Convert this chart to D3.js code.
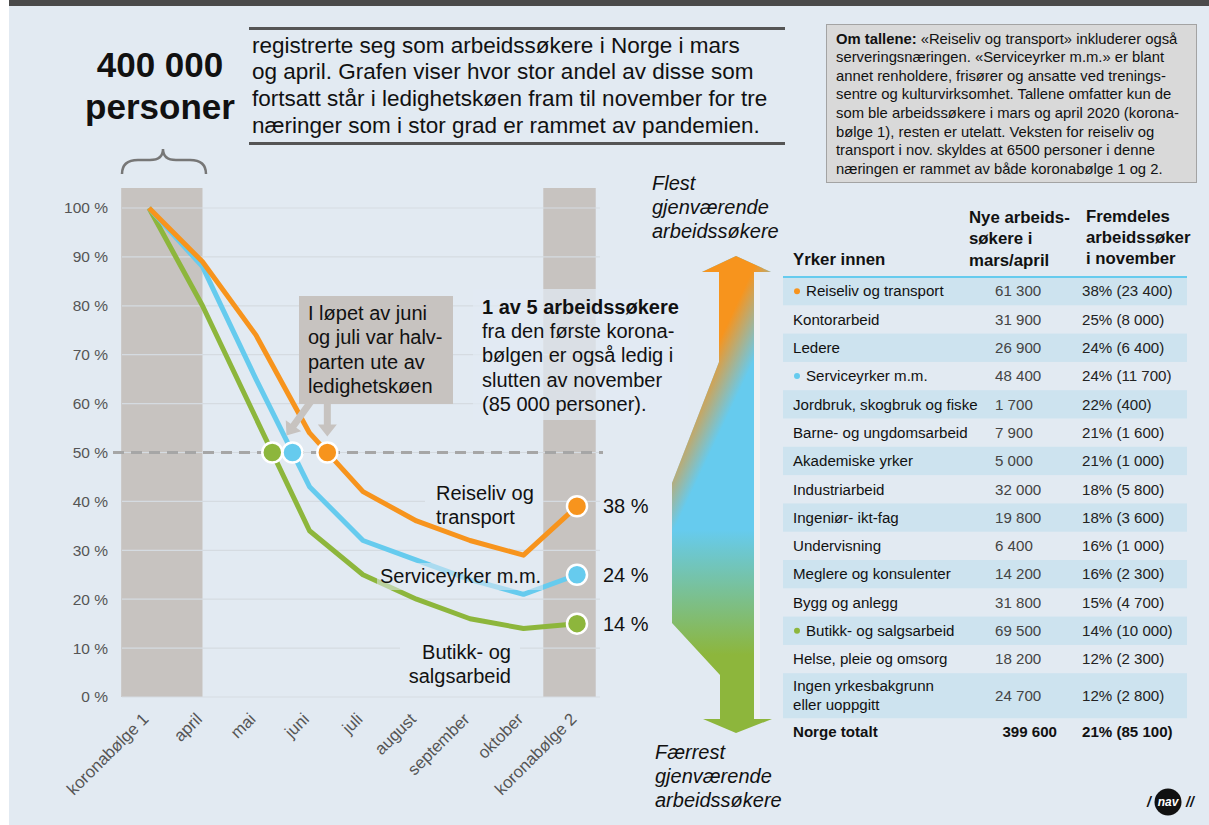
<!DOCTYPE html>
<html lang="no">
<head>
<meta charset="UTF-8">
<title>Koronabølge 1 – gjenværende arbeidssøkere</title>
<script src="https://cdn.jsdelivr.net/npm/d3@7"></script>
<style>
    body { margin: 0; background: #e2eaf2; }
    svg { display: block; font-family: "Liberation Sans", Arial, sans-serif; }
    .axis text { fill: #555; }
    .axis path, .axis line { display: none; }
</style>
</head>
<body>
<script>
    // chart data
    var months = ["koronabølge 1", "april", "mai", "juni", "juli", "august", "september", "oktober", "koronabølge 2"];
    var reiseliv = [100, 89, 74, 54, 42, 36, 32, 29, 39];
    var service  = [100, 88, 65, 43, 32, 28, 24, 21, 25];
    var butikk   = [100, 80, 57, 34, 25, 20, 16, 14, 15];
    var novLabels = [38, 24, 14];
    var yTicks = [0, 10, 20, 30, 40, 50, 60, 70, 80, 90, 100];

    // table data
    var yrker = ["Reiseliv og transport", "Kontorarbeid", "Ledere", "Serviceyrker m.m.",
        "Jordbruk, skogbruk og fiske", "Barne- og ungdomsarbeid", "Akademiske yrker",
        "Industriarbeid", "Ingeniør- ikt-fag", "Undervisning", "Meglere og konsulenter",
        "Bygg og anlegg", "Butikk- og salgsarbeid", "Helse, pleie og omsorg",
        "Ingen yrkesbakgrunn|eller uoppgitt"];
    var nye = [61300, 31900, 26900, 48400, 1700, 7900, 5000, 32000, 19800, 6400, 14200, 31800, 69500, 18200, 24700];
    var fremdelesPct = [38, 25, 24, 24, 22, 21, 21, 18, 18, 16, 16, 15, 14, 12, 12];
    var fremdelesAnt = [23400, 8000, 6400, 11700, 400, 1600, 1000, 5800, 3600, 1000, 2300, 4700, 10000, 2300, 2800];
    var totalNye = 399600, totalPct = 21, totalAnt = 85100;

    var ORANGE = "#f7941d", BLUE = "#66cbee", GREEN = "#8db63c", BG = "#e2eaf2";
    var fmt = d3.formatLocale({decimal: ",", thousands: " ", grouping: [3], currency: ["", ""]}).format(",d");

    var svg = d3.select("body").append("svg")
        .attr("width", 1209)
        .attr("height", 825);

    svg.append("rect").attr("width", 1209).attr("height", 825).attr("fill", BG);
    svg.append("rect").attr("x", 0).attr("width", 9).attr("height", 825).attr("fill", "#ffffff");
    svg.append("rect").attr("x", 9).attr("width", 1200).attr("height", 6).attr("fill", "#4a4a4a");

    // helper for multi-line text
    function lines(g, arr, x, y0, dy, size, opts) {
        opts = opts || {};
        var t = g.append("text")
            .attr("font-size", size)
            .attr("fill", opts.fill || "#111")
            .attr("font-weight", opts.weight || null)
            .attr("font-style", opts.italic ? "italic" : null)
            .attr("text-anchor", opts.anchor || "start");
        arr.forEach(function(s, i) {
            t.append("tspan").attr("x", x).attr("y", y0 + i * dy).attr("dy", "0.35em").text(s);
        });
        return t;
    }

    // ---- header ----
    lines(svg, ["400 000", "personer"], 160, 65, 42, 35, {weight: "bold", anchor: "middle"});
    svg.append("path")
        .attr("d", "M122,174 Q122,160 138,160 L150,160 Q163,160 163,149 Q163,160 176,160 L190,160 Q206,160 206,174")
        .attr("fill", "none").attr("stroke", "#777").attr("stroke-width", 2.5);

    svg.append("rect").attr("x", 249).attr("y", 27).attr("width", 536).attr("height", 3).attr("fill", "#555");
    svg.append("rect").attr("x", 249).attr("y", 142).attr("width", 536).attr("height", 3).attr("fill", "#555");
    lines(svg, ["registrerte seg som arbeidssøkere i Norge i mars",
        "og april. Grafen viser hvor stor andel av disse som",
        "fortsatt står i ledighetskøen fram til november for tre",
        "næringer som i stor grad er rammet av pandemien."], 252, 45, 26.6, 22.5);

    // info box
    svg.append("rect").attr("x", 826.5).attr("y", 24.5).attr("width", 370).attr("height", 158)
        .attr("fill", "#d9d9d9").attr("stroke", "#a3a3a3");
    var infoLines = ["«Reiseliv og transport» inkluderer også",
        "serveringsnæringen. «Serviceyrker m.m.» er blant",
        "annet renholdere, frisører og ansatte ved trenings-",
        "sentre og kulturvirksomhet. Tallene omfatter kun de",
        "som ble arbeidssøkere i mars og april 2020 (korona-",
        "bølge 1), resten er utelatt. Veksten for reiseliv og",
        "transport i nov. skyldes at 6500 personer i denne",
        "næringen er rammet av både koronabølge 1 og 2."];
    var info = svg.append("text").attr("font-size", 14.8).attr("fill", "#111");
    infoLines.forEach(function(s, i) {
        if (i === 0) {
            info.append("tspan").attr("x", 836).attr("y", 38.5).attr("dy", "0.35em")
                .attr("font-weight", "bold").text("Om tallene:");
            info.append("tspan").text(" " + s);
        } else {
            info.append("tspan").attr("x", 836).attr("y", 38.5 + i * 18.6).attr("dy", "0.35em").text(s);
        }
    });

    // ---- line chart ----
    var x = d3.scalePoint().domain(months).range([149, 577]);
    var y = d3.scaleLinear().domain([0, 100]).range([697, 208]);
    var step = x.step();

    var chart = svg.append("g");
    chart.append("rect")
        .attr("x", x(months[0]) - step * 0.52).attr("y", 188)
        .attr("width", x(months[1]) - x(months[0]) + step * 0.52).attr("height", y(0) - 188)
        .attr("fill", "#c7c3c0");
    chart.append("rect")
        .attr("x", x(months[8]) - step * 0.63).attr("y", 188)
        .attr("width", step * 0.98).attr("height", y(0) - 188)
        .attr("fill", "#c7c3c0");

    chart.selectAll(".grid").data(yTicks).enter().append("line")
        .attr("class", "grid")
        .attr("x1", 122).attr("x2", 600)
        .attr("y1", function(d) { return y(d); }).attr("y2", function(d) { return y(d); })
        .attr("stroke", "#d5dbe1").attr("stroke-width", 1.2);

    chart.append("g").attr("class", "axis")
        .attr("transform", "translate(108,0)")
        .call(d3.axisLeft(y).tickValues(yTicks).tickSize(0).tickPadding(0)
            .tickFormat(function(d) { return d + " %"; }))
        .selectAll("text").attr("font-family", null).attr("font-size", 15.5);

    chart.append("g").attr("class", "axis")
        .attr("transform", "translate(0," + y(0) + ")")
        .call(d3.axisBottom(x).tickSize(0))
        .selectAll("text")
        .attr("font-family", null).attr("font-size", 16.8)
        .attr("x", 0).attr("y", 0).attr("dy", "0.35em")
        .attr("text-anchor", "end")
        .attr("transform", "translate(-4,19) rotate(-45)");

    // text backgrounds for labels
    chart.append("rect").attr("x", 473).attr("y", 289).attr("width", 215).attr("height", 131)
        .attr("fill", BG).attr("opacity", 0.72);
    chart.append("rect").attr("x", 425).attr("y", 480).attr("width", 118).attr("height", 50).attr("fill", BG);
    chart.append("rect").attr("x", 400).attr("y", 638).attr("width", 120).attr("height", 50).attr("fill", BG);

    chart.append("line")
        .attr("x1", 113).attr("x2", 603).attr("y1", y(50)).attr("y2", y(50))
        .attr("stroke", "#a6a6a6").attr("stroke-width", 3).attr("stroke-dasharray", "11,7");

    var line = d3.line()
        .x(function(d, i) { return x(months[i]); })
        .y(function(d) { return y(d); });

    var series = [
        {vals: butikk, color: GREEN},
        {vals: service, color: BLUE},
        {vals: reiseliv, color: ORANGE}
    ];

    series.forEach(function(s) {
        chart.append("path")
            .attr("d", line(s.vals))
            .attr("fill", "none")
            .attr("stroke", s.color)
            .attr("stroke-width", 5)
            .attr("stroke-linejoin", "round");
    });

    // semi-transparent backing for the Serviceyrker label
    chart.append("rect").attr("x", 377).attr("y", 563).attr("width", 166).attr("height", 27)
        .attr("fill", BG).attr("opacity", 0.55);

    // where each line crosses 50 %
    function cross50(vals) {
        for (var i = 1; i < vals.length; i++) {
            if (vals[i - 1] >= 50 && vals[i] < 50) {
                var t = (vals[i - 1] - 50) / (vals[i - 1] - vals[i]);
                return x(months[i - 1]) + t * step;
            }
        }
    }

    // annotation box + arrows
    var ann = svg.append("g");
    ann.append("rect").attr("x", 299).attr("y", 296).attr("width", 154).attr("height", 108).attr("fill", "#c7c3c0");
    function arrow(x0, y0, x1, y1, w, hw, hl) {
        var dx = x1 - x0, dy = y1 - y0, L = Math.sqrt(dx * dx + dy * dy);
        var ux = dx / L, uy = dy / L, px = -uy, py = ux;
        var bx = x1 - ux * hl, by = y1 - uy * hl;
        var pts = [
            [x0 + px * w / 2, y0 + py * w / 2], [bx + px * w / 2, by + py * w / 2],
            [bx + px * hw / 2, by + py * hw / 2], [x1, y1],
            [bx - px * hw / 2, by - py * hw / 2], [bx - px * w / 2, by - py * w / 2],
            [x0 - px * w / 2, y0 - py * w / 2]
        ];
        ann.append("polygon").attr("points", pts.map(function(p) { return p.join(","); }).join(" "))
            .attr("fill", "#c7c3c0");
    }
    arrow(312, 400, cross50(service) - 6, y(50) - 17, 7, 19, 12);
    arrow(cross50(reiseliv), 400, cross50(reiseliv), y(50) - 16, 7, 19, 12);
    lines(ann, ["I løpet av juni", "og juli var halv-", "parten ute av", "ledighetskøen"], 308, 313, 24.3, 20);

    // circles at 50 %
    series.forEach(function(s) {
        chart.append("circle")
            .attr("cx", cross50(s.vals)).attr("cy", y(50)).attr("r", 10)
            .attr("fill", s.color).attr("stroke", "#fff").attr("stroke-width", 2.5);
    });

    // end circles + labels
    [reiseliv, service, butikk].forEach(function(vals, i) {
        var c = [ORANGE, BLUE, GREEN][i];
        chart.append("circle")
            .attr("cx", x(months[8])).attr("cy", y(vals[8])).attr("r", 10)
            .attr("fill", c).attr("stroke", "#fff").attr("stroke-width", 2.5);
        chart.append("text")
            .attr("x", 603).attr("y", y(vals[8])).attr("dy", "0.35em")
            .attr("font-size", 20).attr("fill", "#111")
            .text(novLabels[i] + " %");
    });

    lines(chart, ["Reiseliv og", "transport"], 436, 493, 24, 20);
    lines(chart, ["Serviceyrker m.m."], 380, 576, 24, 20);
    lines(chart, ["Butikk- og", "salgsarbeid"], 511, 652, 24, 20, {anchor: "end"});

    var note = lines(chart, ["1 av 5 arbeidssøkere", "fra den første korona-", "bølgen er også ledig i",
        "slutten av november", "(85 000 personer)."], 482, 307, 24.2, 20);
    note.select("tspan").attr("font-weight", "bold");

    // ---- gradient arrow ----
    var defs = svg.append("defs");
    var g1 = defs.append("linearGradient").attr("id", "bg2").attr("gradientUnits", "userSpaceOnUse")
        .attr("x1", 0).attr("y1", 530).attr("x2", 0).attr("y2", 655);
    g1.append("stop").attr("offset", 0).attr("stop-color", BLUE);
    g1.append("stop").attr("offset", 1).attr("stop-color", GREEN);
    var g2 = defs.append("linearGradient").attr("id", "og").attr("gradientUnits", "userSpaceOnUse")
        .attr("x1", 695).attr("y1", 392).attr("x2", 731).attr("y2", 409);
    g2.append("stop").attr("offset", 0).attr("stop-color", ORANGE).attr("stop-opacity", 1);
    g2.append("stop").attr("offset", 1).attr("stop-color", ORANGE).attr("stop-opacity", 0);

    var arrowPts = "736,256 771,272 754,272 754,719 772,719 736,733 703,719 720,719 720,675 672,623 672,483 719,362 719,272 702,272";
    svg.append("rect").attr("x", 754).attr("y", 280).attr("width", 6).attr("height", 439).attr("fill", "#eef0f2");
    svg.append("polygon").attr("points", arrowPts).attr("fill", "url(#bg2)");
    svg.append("polygon").attr("points", arrowPts).attr("fill", "url(#og)");

    lines(svg, ["Flest", "gjenværende", "arbeidssøkere"], 652, 183, 24, 20, {italic: true});
    lines(svg, ["Færrest", "gjenværende", "arbeidssøkere"], 655, 752, 24, 20, {italic: true});

    // ---- table ----
    var tab = svg.append("g");
    var rowH = 28.3, tableTop = 277;
    var rowY = [], yPos = tableTop;
    yrker.forEach(function(d, i) {
        var h = d.indexOf("|") >= 0 ? 45 : rowH;
        rowY.push({y: yPos, h: h});
        yPos += h;
    });

    tab.selectAll(".row").data(yrker).enter().append("rect")
        .attr("x", 783).attr("width", 404)
        .attr("y", function(d, i) { return rowY[i].y; })
        .attr("height", function(d, i) { return rowY[i].h; })
        .attr("fill", function(d, i) { return i % 2 === 0 ? "#cde3ef" : "none"; });
    tab.append("line").attr("x1", 783).attr("x2", 1187).attr("y1", tableTop).attr("y2", tableTop)
        .attr("stroke", BLUE).attr("stroke-width", 2);

    lines(tab, ["Yrker innen"], 793, 259, 21, 16.8, {weight: "bold"});
    lines(tab, ["Nye arbeids-", "søkere i", "mars/april"], 969, 217, 21.5, 16.8, {weight: "bold"});
    lines(tab, ["Fremdeles", "arbeidssøker", "i november"], 1086, 216, 21, 16.8, {weight: "bold"});

    var dotColor = {0: ORANGE, 3: BLUE, 12: GREEN};
    yrker.forEach(function(d, i) {
        var cy = rowY[i].y + rowY[i].h / 2;
        var parts = d.split("|");
        var tx = 793;
        if (dotColor[i]) {
            tab.append("circle").attr("cx", 797).attr("cy", cy).attr("r", 3).attr("fill", dotColor[i]);
            tx = 806;
        }
        lines(tab, parts, tx, cy - (parts.length - 1) * 9.5, 19, 15.1);
        lines(tab, [fmt(nye[i])], 995, cy, 19, 15.1, {fill: "#444"});
        lines(tab, [fremdelesPct[i] + "% (" + fmt(fremdelesAnt[i]) + ")"], 1082, cy, 19, 15.1, {fill: "#222"});
    });
    var ty = yPos + 14;
    lines(tab, ["Norge totalt"], 793, ty, 19, 15.1, {weight: "bold"});
    lines(tab, [fmt(totalNye)], 1057, ty, 19, 15.1, {weight: "bold", anchor: "end"});
    lines(tab, [totalPct + "% (" + fmt(totalAnt) + ")"], 1082, ty, 19, 15.1, {weight: "bold"});

    // logo
    var logo = svg.append("g").attr("transform", "translate(1168,802)");
    logo.append("circle").attr("r", 13.5).attr("fill", "#111");
    logo.append("text").attr("text-anchor", "middle").attr("dy", "0.35em").attr("font-size", 12)
        .attr("font-weight", "bold").attr("font-style", "italic").attr("fill", "#fff").text("nav");
    logo.append("text").attr("x", -19).attr("dy", "0.35em").attr("font-size", 14).attr("font-weight", "bold")
        .attr("font-style", "italic").attr("fill", "#111").attr("text-anchor", "middle").text("/");
    logo.append("text").attr("x", 22).attr("dy", "0.35em").attr("font-size", 14).attr("font-weight", "bold")
        .attr("font-style", "italic").attr("fill", "#111").attr("text-anchor", "middle").text("//");
</script>
</body>
</html>
